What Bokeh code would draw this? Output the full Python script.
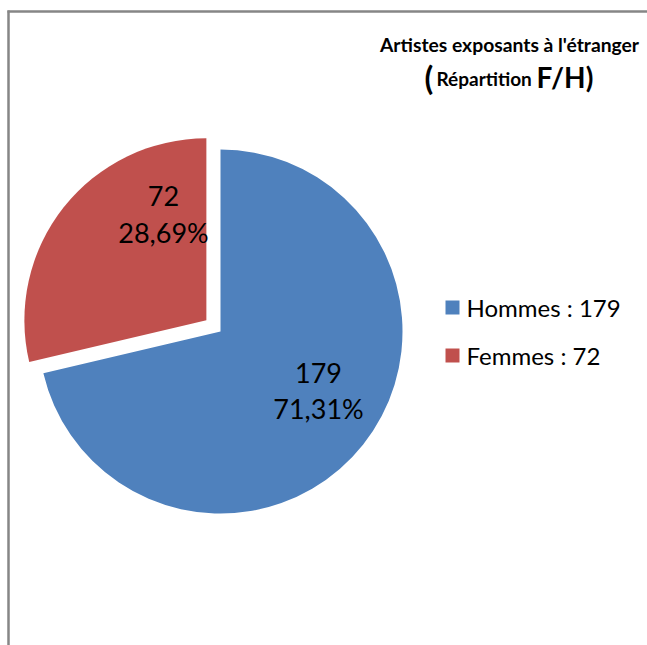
import math
from bokeh.plotting import figure
from bokeh.models import Range1d, ColumnDataSource
from bokeh.core.properties import value
from bokeh.embed import file_html
from bokeh.resources import INLINE

# ---- data ----
categories = ["Hommes", "Femmes"]
counts = [179, 72]
colors = ["#4F81BD", "#C0504D"]
title_line1 = "Artistes exposants à l'étranger"
title_parts = ["(", "Répartition", "F/H)"]

FONT = "Lato"
W, H = 647, 645

p = figure(width=W, height=H, output_backend="svg", toolbar_location=None,
           x_range=Range1d(0, W), y_range=Range1d(0, H), title=None,
           x_axis_type=None, y_axis_type=None, min_border=0)
p.outline_line_color = None
p.grid.visible = False
p.background_fill_color = "white"
p.border_fill_color = "white"

def py(y):
    return H - y

# border (left and top of the chart area)
p.hbar(y=[py(11)], left=[7], right=[W], height=2.5,
       fill_color="#868686", line_color=None)
p.vbar(x=[8], top=[py(10)], bottom=[0], width=2.5,
       fill_color="#868686", line_color=None)

# ---- pie ----
total = sum(counts)
fracs = [c / total for c in counts]
cx, cy, R = 220, py(331), 182
explode = [0, 18]
starts, ends, xs, ys = [], [], [], []
cur = math.pi / 2  # start at 12 o'clock, go clockwise
for f, ex in zip(fracs, explode):
    a1 = cur
    a0 = cur - 2 * math.pi * f
    mid = (a0 + a1) / 2
    starts.append(a0)
    ends.append(a1)
    xs.append(cx + ex * math.cos(mid))
    ys.append(cy + ex * math.sin(mid))
    cur = a0
src = ColumnDataSource(dict(x=xs, y=ys, s=starts, e=ends, c=colors))
p.wedge(x="x", y="y", radius=R, start_angle="s", end_angle="e",
        fill_color="c", line_color=None, source=src)

# data labels (centre of each text line)
label_pos = [(318, 372, 408), (163, 195, 232)]
for cnt, f, (lx, c1, c2) in zip(counts, fracs, label_pos):
    pct = f"{f * 100:.2f}%".replace(".", ",")
    p.text(x=[lx, lx], y=[py(c1), py(c2)], text=[str(cnt), pct],
           text_align="center", text_baseline="middle",
           text_font=value(FONT), text_font_size="27px", text_color="black")

# ---- legend ----
leg_y = [307, 355]
for cat, cnt, col, ly in zip(categories, counts, colors, leg_y):
    p.rect(x=[452], y=[py(ly)], width=14, height=14, fill_color=col, line_color=None)
    p.text(x=[466], y=[py(ly)], text=[f"{cat} : {cnt}"],
           text_align="left", text_baseline="middle",
           text_font=value(FONT), text_font_size="24px", text_color="black")

# ---- title ----
p.text(x=[509], y=[py(44)], text=[title_line1], text_align="center",
       text_baseline="middle", text_font=value(FONT), text_font_style="bold",
       text_font_size="19.3px", text_color="black")
p.text(x=[424], y=[py(77)], text=[title_parts[0]], text_align="left",
       text_baseline="middle", text_font=value(FONT), text_font_style="bold",
       text_font_size="32px", text_color="black")
p.text(x=[436], y=[py(78)], text=[title_parts[1]], text_align="left",
       text_baseline="middle", text_font=value(FONT), text_font_style="bold",
       text_font_size="19px", text_color="black")
p.text(x=[536], y=[py(76)], text=[title_parts[2]], text_align="left",
       text_baseline="middle", text_font=value(FONT), text_font_style="bold",
       text_font_size="28px", text_color="black")

open("out.html", "w").write(file_html(p, INLINE))
